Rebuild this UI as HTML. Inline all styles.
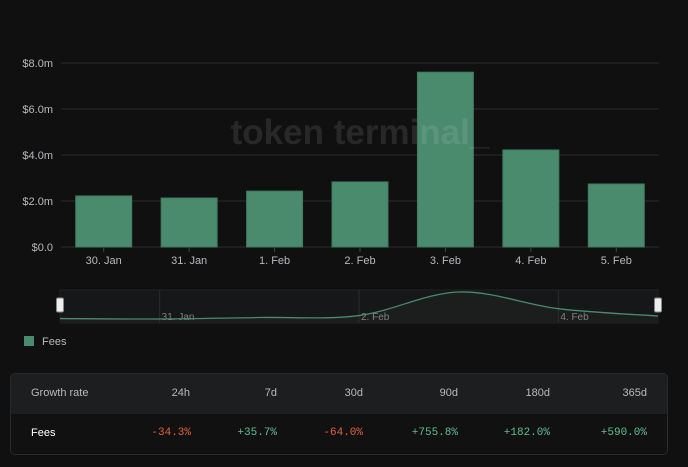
<!DOCTYPE html>
<html><head><meta charset="utf-8"><style>
html,body{margin:0;padding:0;background:#101011;width:688px;height:467px;overflow:hidden;font-family:"Liberation Sans",sans-serif}
svg text{font-family:"Liberation Sans",sans-serif}
.tbl{position:absolute;left:10px;top:373px;width:656px;height:80px;border:1px solid #2a2b2e;border-radius:5px;overflow:hidden;font-size:11px}
.row{position:relative;height:40px}
.h{background:#1d1e20;color:#b8b9bc}
.b{background:#111112;color:#fff}
.row div{position:absolute;top:13px}
.c{text-align:right;font-family:"Liberation Mono",monospace;width:90px}
.h .c{font-family:"Liberation Sans",sans-serif}
.first{left:20px}
.neg{color:#e0643a}.pos{color:#5fbf93}
</style></head><body>
<svg id="chart" width="688" height="467" style="position:absolute;left:0;top:0"></svg>
<div style="position:absolute;left:24px;top:336px;width:10px;height:10px;background:#4a8a6d"></div>
<div style="position:absolute;left:42px;top:336px;color:#b8b9bc;font-size:11px">Fees</div>
<div class="tbl">
 <div class="row h">
  <div class="first">Growth rate</div>
  <div class="c" style="left:89px">24h</div>
  <div class="c" style="left:176px">7d</div>
  <div class="c" style="left:262px">30d</div>
  <div class="c" style="left:357px">90d</div>
  <div class="c" style="left:449px">180d</div>
  <div class="c" style="left:546px">365d</div>
 </div>
 <div class="row b">
  <div class="first">Fees</div>
  <div class="c neg" style="left:90px">-34.3%</div>
  <div class="c pos" style="left:176px">+35.7%</div>
  <div class="c neg" style="left:262px">-64.0%</div>
  <div class="c pos" style="left:357px">+755.8%</div>
  <div class="c pos" style="left:449px">+182.0%</div>
  <div class="c pos" style="left:546px">+590.0%</div>
 </div>
</div>
<script>
const categories=["30. Jan","31. Jan","1. Feb","2. Feb","3. Feb","4. Feb","5. Feb"];
const fees=[2.22,2.13,2.43,2.83,7.6,4.22,2.74];
const yTicks=[0,2,4,6,8];
const yTickLabels=["$0.0","$2.0m","$4.0m","$6.0m","$8.0m"];
const navLabels=[{i:1,t:"31. Jan"},{i:3,t:"2. Feb"},{i:5,t:"4. Feb"}];

const NS="http://www.w3.org/2000/svg";
const svg=document.getElementById('chart');
function mk(tag,attrs,parent){const e=document.createElementNS(NS,tag);for(const k in attrs)e.setAttribute(k,attrs[k]);(parent||svg).appendChild(e);return e;}
const L=61,R=659,T=63,B=247;
const band=(R-L)/categories.length;
const x=i=>L+band*(i+0.5);
const y=v=>B-(v/8)*(B-T);

yTicks.forEach((t,k)=>{
  const g=mk('line',{x1:L,x2:R,y1:y(t),y2:y(t),stroke:'#2b2c2e','stroke-width':1});
  
  
  const lb=mk('text',{x:53,y:y(t)+4,'text-anchor':'end','font-size':11,fill:'#b8b9bc'});
  lb.textContent=yTickLabels[k];
  
  
});
const bw=56;
fees.forEach((v,i)=>{
  const r=mk('rect',{x:x(i)-bw/2,y:y(v),width:bw,height:B-y(v),fill:'#4a8a6d',stroke:'#3f7a5f','stroke-width':1});
  
  
  const tk=mk('line',{x1:x(i),x2:x(i),y1:B,y2:B+5,stroke:'#444'});
  
  
  const lb=mk('text',{x:x(i),y:B+17,'text-anchor':'middle','font-size':11,fill:'#b8b9bc'});
  lb.textContent=categories[i];
  
  
});

// watermark (on top, translucent)
const wm=mk('text',{x:360,y:144,'text-anchor':'middle','font-size':35,'font-weight':'bold',fill:'#ffffff','fill-opacity':0.1});
wm.textContent="token terminal_";



// navigator
const NL=60,NR=658,NT=290,NB=323;
const nb=mk('rect',{x:NL,y:NT,width:NR-NL,height:NB-NT,fill:'#161718',stroke:'#222'});


const nx=i=>NL+(NR-NL)*i/(categories.length-1);
const mn=Math.min(...fees),mx=Math.max(...fees);
const ny=v=>NB-4-(v-mn)/(mx-mn)*(NB-NT-6);
let d="M"+nx(0)+","+ny(fees[0]);
for(let i=0;i<fees.length-1;i++){
  const p0=[nx(Math.max(i-1,0)),ny(fees[Math.max(i-1,0)])],p1=[nx(i),ny(fees[i])],p2=[nx(i+1),ny(fees[i+1])],p3=[nx(Math.min(i+2,fees.length-1)),ny(fees[Math.min(i+2,fees.length-1)])];
  const c1=[p1[0]+(p2[0]-p0[0])/6,p1[1]+(p2[1]-p0[1])/6],c2=[p2[0]-(p3[0]-p1[0])/6,p2[1]-(p3[1]-p1[1])/6];
  d+=` C${c1[0]},${c1[1]} ${c2[0]},${c2[1]} ${p2[0]},${p2[1]}`;
}
const area=mk('path',{d:d+` L${NR},${NB} L${NL},${NB} Z`,fill:'#1c1e1d'});


navLabels.forEach(n=>{
  const l=mk('line',{x1:nx(n.i),x2:nx(n.i),y1:NT,y2:NB,stroke:'#2c2d2f'});
  
  
  const t=mk('text',{x:nx(n.i)+2,y:NB-3,'font-size':10,fill:'#808080'});
  t.textContent=n.t;
  
  
});
const line=mk('path',{d:d,fill:'none',stroke:'#4a8a6d','stroke-width':1.3});


[NL,NR].forEach((hx,k)=>{
  const h=mk('rect',{x:hx-3.5,y:298,width:7,height:14,rx:1.5,fill:'#eee',stroke:'#888'});
  
  
});
</script>
</body></html>
